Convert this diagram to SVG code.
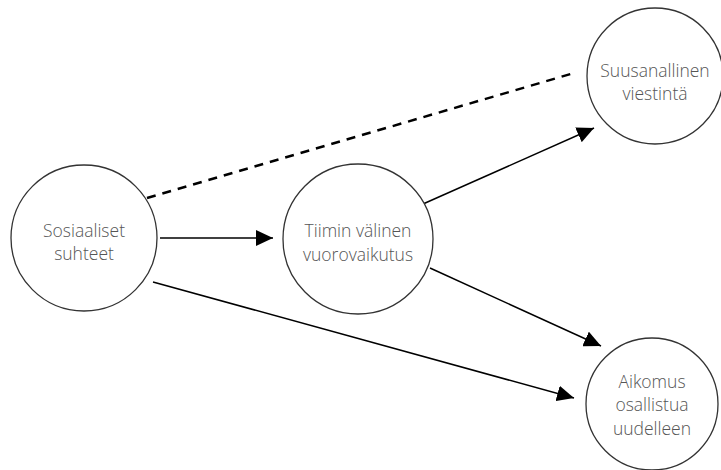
<svg xmlns="http://www.w3.org/2000/svg" width="721" height="470" viewBox="0 0 721 470">
<style>
.node circle{fill:#fff;stroke:#333;stroke-width:1.3}
.node text{font-family:"Open Sans","Noto Sans",sans-serif;font-size:17.5px;font-weight:300;fill:#555;text-anchor:middle}
.edge{stroke:#000;stroke-width:1.5;fill:none}
.dash{stroke:#000;stroke-width:2.5;fill:none;stroke-dasharray:9,7}
</style>
<defs>
<marker id="arr" viewBox="0 0 10 10" refX="10" refY="5" markerWidth="17" markerHeight="16" markerUnits="userSpaceOnUse" orient="auto" preserveAspectRatio="none">
<path d="M0,0 L10,5 L0,10 z" fill="#000"/>
</marker>
</defs>
<rect width="721" height="470" fill="#fff"/>
<g id="connectors">
<line class="dash" x1="147" y1="198" x2="574" y2="73"/>
<line class="edge" x1="160" y1="238" x2="273" y2="238" marker-end="url(#arr)"/>
<line class="edge" x1="423" y1="204" x2="594" y2="128" marker-end="url(#arr)"/>
<line class="edge" x1="430" y1="268" x2="601" y2="346" marker-end="url(#arr)"/>
<line class="edge" x1="153" y1="282" x2="574" y2="398" marker-end="url(#arr)"/>
</g>
<g id="sosiaaliset" class="node">
<circle cx="84" cy="238" r="73"/>
<text x="84" y="237">Sosiaaliset</text>
<text x="84" y="260">suhteet</text>
</g>
<g id="tiimin" class="node">
<circle cx="358" cy="239" r="75"/>
<text x="358" y="237">Tiimin välinen</text>
<text x="358" y="261">vuorovaikutus</text>
</g>
<g id="suusanallinen" class="node">
<circle cx="655" cy="76" r="68"/>
<text x="655" y="77">Suusanallinen</text>
<text x="655" y="100">viestintä</text>
</g>
<g id="aikomus" class="node">
<circle cx="652" cy="404" r="66"/>
<text x="652" y="388">Aikomus</text>
<text x="652" y="411">osallistua</text>
<text x="652" y="435">uudelleen</text>
</g>
</svg>
